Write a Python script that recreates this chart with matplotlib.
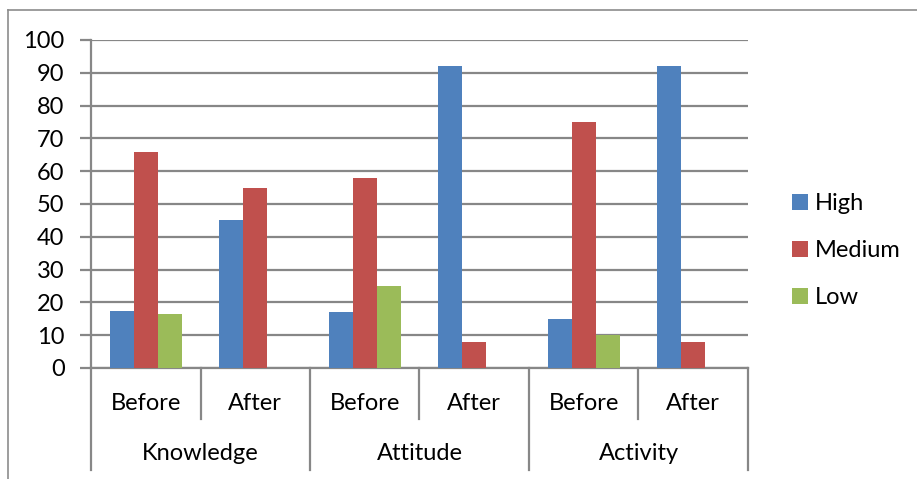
import matplotlib.pyplot as plt
from matplotlib.lines import Line2D
from matplotlib.patches import Patch

plt.rcParams['font.family'] = ['Lato', 'DejaVu Sans']

groups = ['Knowledge', 'Attitude', 'Activity']
phases = ['Before', 'After']
series = ['High', 'Medium', 'Low']
high = [17.5, 45, 17, 92, 15, 92]
medium = [66, 55, 58, 8, 75, 8]
low = [16.5, 0, 25, 0, 10, 0]
colors = ['#4F81BD', '#C0504D', '#9BBB59']
yticks = list(range(0, 101, 10))

W, H = 917, 479
fig = plt.figure(figsize=(W / 100, H / 100), dpi=100)
x0, x1, y0, y1 = 91, 748, 368, 40
ax = fig.add_axes([x0 / W, 1 - y0 / H, (x1 - x0) / W, (y0 - y1) / H])

n = len(high)
xs = list(range(n))
bw = 0.219
for k, (vals, c) in enumerate(zip([high, medium, low], colors)):
    ax.bar([x + (k - 1) * bw for x in xs], vals, bw, color=c, zorder=3)

fs = 17
grid_c = '#878787'
ax.set_xlim(-0.5, n - 0.5)
ax.set_ylim(0, 100)
ax.set_yticks(yticks)
ax.yaxis.grid(True, color=grid_c, lw=1.6, zorder=0)
ax.tick_params(axis='y', length=8, width=1.6, color=grid_c, labelsize=fs, pad=11)
ax.tick_params(axis='x', length=0, labelbottom=False)
for s in ['top', 'right']:
    ax.spines[s].set_visible(False)
ax.spines['left'].set_color(grid_c)
ax.spines['left'].set_linewidth(1.6)
ax.spines['bottom'].set_color(grid_c)
ax.spines['bottom'].set_linewidth(1.6)

# two-level category axis
trans = ax.get_xaxis_transform()
inner = -(419 - y0) / (y0 - y1)
outer = -(470 - y0) / (y0 - y1)
for b in range(n + 1):
    xb = b - 0.5
    bottom = outer if b % 2 == 0 else inner
    ax.plot([xb, xb], [0, bottom], color=grid_c, lw=1.6, transform=trans,
            clip_on=False)
for i in range(n):
    ax.text(i, -(403 - y0) / (y0 - y1), phases[i % 2], transform=trans,
            ha='center', va='center', fontsize=fs)
for g, name in enumerate(groups):
    ax.text(2 * g + 0.5, -(453 - y0) / (y0 - y1), name, transform=trans,
            ha='center', va='center', fontsize=fs)

handles = [Patch(facecolor=c, edgecolor='none') for c in colors]
fig.legend(handles, series, loc='upper left',
           bbox_to_anchor=(771 / W, 1 - 172 / H), frameon=False,
           fontsize=fs, handlelength=0.65, handleheight=0.65,
           handletextpad=0.3, labelspacing=1.1)

# outer frame
fig.add_artist(Line2D([8 / W, 1], [1 - 10 / H, 1 - 10 / H], color='#8c8c8c',
                      lw=1.2, transform=fig.transFigure))
fig.add_artist(Line2D([8 / W, 8 / W], [0, 1 - 10 / H], color='#8c8c8c',
                      lw=1.2, transform=fig.transFigure))

fig.savefig('out.png', dpi=100, facecolor='white')
